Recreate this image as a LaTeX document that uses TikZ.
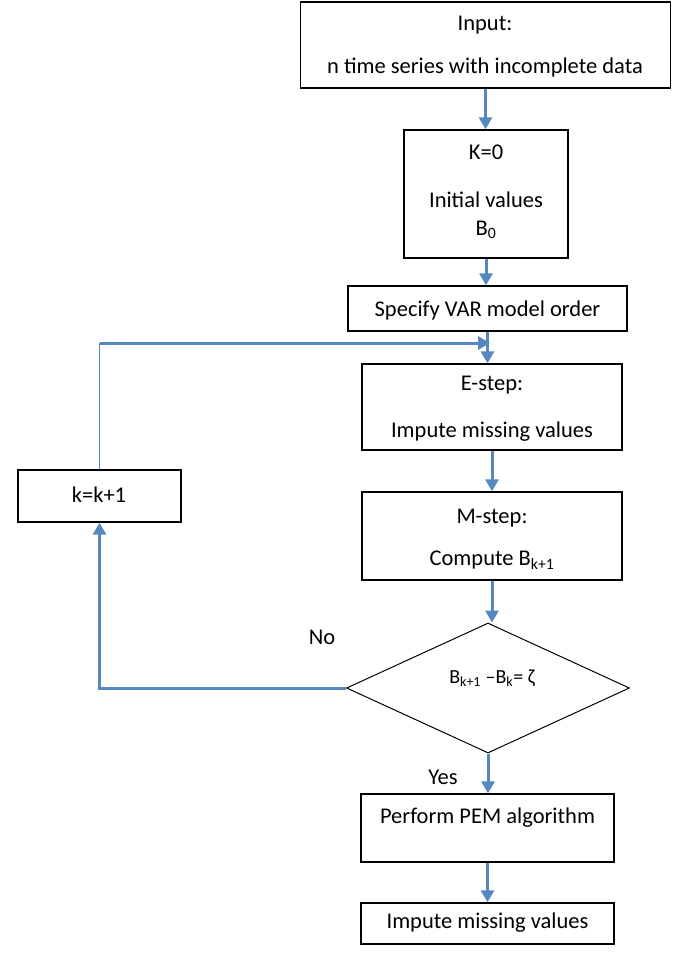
\documentclass[tikz,border=0pt]{standalone}
\usepackage{fontspec}
\setmainfont{Carlito}
\usetikzlibrary{arrows.meta,shapes.geometric}
\definecolor{arr}{RGB}{84,136,190}
\begin{document}
\begin{tikzpicture}[x=1pt,y=-1pt,
  font=\fontsize{22.5}{26}\selectfont,
  box/.style={draw=black, line width=1.4pt, inner sep=0pt, fill=white},
  txt/.style={inner sep=0pt, anchor=center},
  flow/.style={draw=arr, line width=3pt, -{Triangle[length=12pt,width=13pt]}},
  thin flow/.style={draw=arr, line width=1.6pt}
]
\useasboundingbox (0,0) rectangle (675,955);
\fill[white] (0,0) rectangle (675,955);
% boxes
\node[box, minimum width=370pt, minimum height=86pt] (inp) at (485.5,45) {};
\node[box, minimum width=164pt, minimum height=128pt] (k0) at (486,194) {};
\node[box, minimum width=279pt, minimum height=45pt] (spec) at (487.5,308.5) {};
\node[box, minimum width=260pt, minimum height=86pt] (estep) at (492,407) {};
\node[box, minimum width=163pt, minimum height=52pt] (kk) at (99.5,496) {};
\node[box, minimum width=260pt, minimum height=88pt] (mstep) at (492,536) {};
\node[draw=black, line width=1pt, diamond, inner sep=0pt, minimum width=283pt, minimum height=130pt] (dia) at (488,688) {};
\node[box, minimum width=253pt, minimum height=68pt] (pem) at (487.5,828) {};
\node[box, minimum width=253pt, minimum height=41pt] (imp) at (487.5,923.5) {};
% texts
\node[txt] (t1) at (485,25) {Input:};
\node[txt] (t2) at (485,68) {n time series with incomplete data};
\node[txt] (t3) at (486,152) {K=0};
\node[txt] (t4) at (486,200) {Initial values};
\node[txt] (t5) at (486,230) {B\textsubscript{0}};
\node[txt] (t6) at (487.5,310) {Specify VAR model order};
\node[txt] (t7) at (492,385) {E-step:};
\node[txt] (t8) at (492,432) {Impute missing values};
\node[txt] (t9) at (99,495) {k=k+1};
\node[txt] (t10) at (492,518) {M-step:};
\node[txt] (t11) at (492,560) {Compute B\textsubscript{k+1}};
\node[txt, font=\fontsize{20}{24}\selectfont] (t12) at (492,678) {B\textsubscript{k+1} –B\textsubscript{k}= ζ};
\node[txt] (no) at (322,637) {No};
\node[txt] (yes) at (443,777) {Yes};
\node[txt] (t13) at (487.5,818) {Perform PEM algorithm};
\node[txt] (t14) at (487.5,923) {Impute missing values};
% connectors
\coordinate (join) at (490,343);
\draw[flow] (inp.south) -- (inp.south |- k0.north);
\draw[flow] (k0.south) -- (k0.south |- spec.north);
\draw[flow] (spec.south) -- (spec.south |- estep.north);
\draw[flow] (estep.south) -- (estep.south |- mstep.north);
\draw[flow] (mstep.south) -- (mstep.south |- dia.north);
\draw[flow] (dia.south) -- (dia.south |- pem.north);
\draw[flow] (pem.south) -- (pem.south |- imp.north);
\draw[flow] (dia.west) -- (dia.west -| kk.south) -- (kk.south);
\draw[thin flow] (kk.north) -- (kk.north |- join);
\draw[flow] (kk.north |- join) -- (join);
\end{tikzpicture}
\end{document}
